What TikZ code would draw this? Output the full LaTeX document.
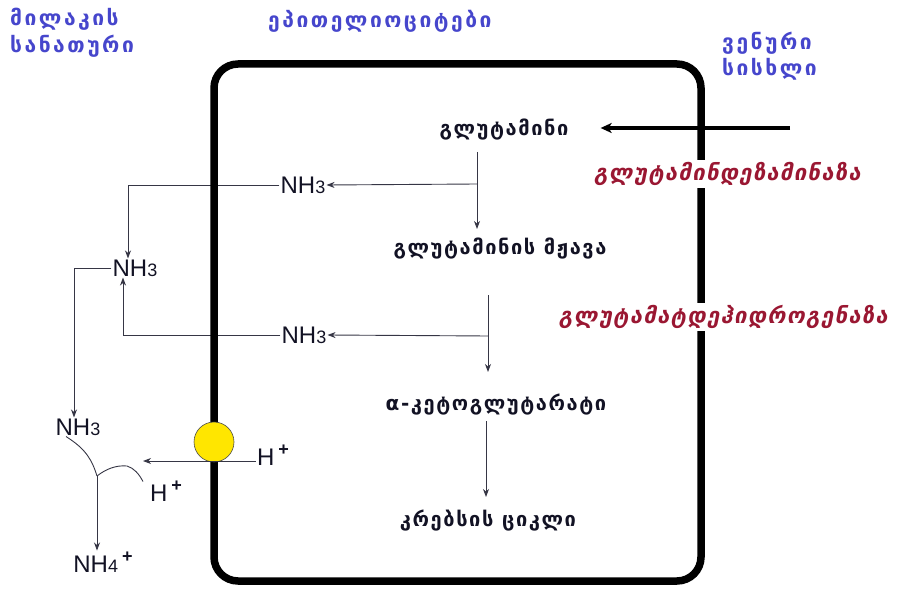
\documentclass[tikz,border=0pt]{standalone}
\usepackage{fontspec}
\setmainfont{DejaVu Sans}[LetterSpace=8]
\newfontfamily\latin{Liberation Sans}
\newfontfamily\geoplace{DejaVu Sans}[LetterSpace=12]
\newfontfamily\geoslant{DejaVu Sans}[FakeSlant=0.2,LetterSpace=6]
\usetikzlibrary{arrows.meta}
\definecolor{inkblue}{HTML}{4646CC}
\definecolor{enzyme}{HTML}{9A1732}
\definecolor{ink}{HTML}{121224}
\definecolor{pumpfill}{HTML}{FFE600}
\tikzset{
  % one unit = one pixel of the reference
  place/.style={font=\geoplace\bfseries\fontsize{21}{26}\selectfont, text=inkblue, inner sep=0pt, anchor=west},
  metab/.style={font=\bfseries\fontsize{20}{25}\selectfont, text=ink, inner sep=2pt},
  enz/.style={font=\geoslant\bfseries\fontsize{22}{28}\selectfont, text=enzyme,
    fill=white, inner sep=2pt},
  chem/.style={font=\latin\fontsize{24}{28}\selectfont, text=ink, inner sep=1pt},
  flow/.style={line width=0.9pt, ink!85, -{Stealth[length=8pt,width=6pt,inset=2.5pt]}},
  plain/.style={line width=0.9pt, ink!85},
  membrane/.style={line width=7.5pt, black, rounded corners=24pt},
  pumpball/.style={circle, draw=black!70, fill=pumpfill, line width=0.6pt,
    minimum size=40pt, inner sep=0pt}
}
\newcommand{\nhthree}{NH{\fontsize{18}{18}\selectfont 3}}
\newcommand{\plusup}{\raisebox{10pt}{\fontsize{18}{18}\selectfont\bfseries +}}

\begin{document}
\begin{tikzpicture}[x=1pt,y=-1pt]
\useasboundingbox (0,0) rectangle (905,596);

% Labels of the three compartments
\node[place] (lumA) at (10,19) {მილაკის};
\node[place] (lumB) at (10,46) {სანათური};
\node[place] (cell) at (268,21) {ეპითელიოციტები};
\node[place] (venA) at (722,43) {ვენური};
\node[place] (venB) at (722,69) {სისხლი};

% Metabolites inside the cell
\node[metab] (glut)  at (504,130) {გლუტამინი};
\node[metab] (acid)  at (500,249) {გლუტამინის მჟავა};
\node[metab] (akg)   at (496,405) {α-კეტოგლუტარატი};
\node[metab] (krebs) at (488,521) {კრებსის ციკლი};

% Ammonia and protons
\node[chem] (nhA) at (303,185) {\nhthree};
\node[chem] (nhB) at (304,335) {\nhthree};
\node[chem] (nhC) at (135,268) {\nhthree};
\node[chem] (nhD) at (78,427)  {\nhthree};
\node[chem] (nhE) at (103,562) {NH{\fontsize{18}{18}\selectfont 4}\,\plusup};
\node[chem] (hR)  at (273,455) {H\,\plusup};
\node[chem] (hL)  at (166,491) {H\,\plusup};

% Branch points
\coordinate (venin) at (790,128);
\coordinate (jA0) at (477,152);
\coordinate (jA)  at (477,184);
\coordinate (jA1) at (477,229);
\coordinate (jB0) at (488,295);
\coordinate (jB)  at (488,336);
\coordinate (jB1) at (488,372);
\coordinate (jC0) at (486,421);
\coordinate (jC1) at (486,497);
\coordinate (hin) at (143,461);
\coordinate (mix) at (97,476);

% Thin connectors (drawn first)
\draw[flow] (jA0) -- (jA1);
\draw[flow] (jA) -- (nhA.east);
\draw[flow] (jB0) -- (jB1);
\draw[flow] (jB) -- (nhB.east);
\draw[flow] (jC0) -- (jC1);
\draw[flow] (nhA.west) -| ([xshift=-7pt]nhC.north);
\draw[flow] (nhB.west) -| ([xshift=-12pt]nhC.south);
\draw[flow] (nhC.west) -| ([xshift=-4pt]nhD.north);

% NH3 + H+ -> NH4+
\draw[plain] ([xshift=-12pt]nhD.south) .. controls (86,449) and (92,460) .. (mix);
\draw[plain] (mix) .. controls (106,469) and (116,465) .. (127,466)
  .. controls (134,468) and (139,474) .. ([xshift=-23pt,yshift=-2pt]hL.north);
\draw[flow] (mix) -- (mix |- nhE.north);

% Membrane of the epithelial cell
\draw[membrane] (214,64) rectangle (701,581);

% Glutamine from venous blood
\draw[line width=3.5pt, black, -{Stealth[length=11pt,width=10pt,inset=3pt]}]
  (venin) -- ([xshift=30pt]glut.east |- venin);

% Enzymes (on top of the membrane)
\node[enz] (gdase) at (727,174) {გლუტამინდეზამინაზა};
\node[enz] (gdh)   at (723,317) {გლუტამატდეჰიდროგენაზა};

% Proton pump
\node[pumpball] (pump) at (214,442) {};
\draw[flow] (hR.west |- hin) -- (hin);

\end{tikzpicture}
\end{document}
